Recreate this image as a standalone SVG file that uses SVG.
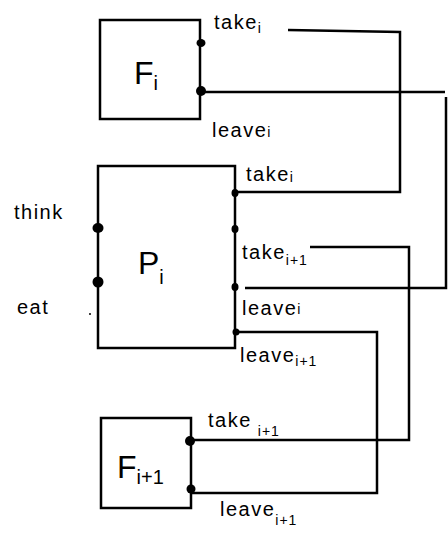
<svg xmlns="http://www.w3.org/2000/svg" width="448" height="539" viewBox="0 0 448 539">
<style>
.box{fill:none;stroke:#000;stroke-width:2.5}
.wire{fill:none;stroke:#000;stroke-width:2.5;stroke-linejoin:miter}
.dot{fill:#000}
.lbl{font-family:"Liberation Sans",Arial,sans-serif;font-size:20px;letter-spacing:1.5px;fill:#000}
.sub{font-size:14px;letter-spacing:1px}
.big{font-family:"Liberation Sans",Arial,sans-serif;font-size:32px;fill:#000}
.bigsub{font-size:20px}
</style>
<rect width="448" height="539" fill="#fff"/>
<g id="connectors">
<path class="wire" d="M288,30 L400,32 L400,192 L236,192"/>
<path class="wire" d="M200,92 L445,92"/>
<path class="wire" d="M446,97 L446,288 L245,288"/>
<path class="wire" d="M310,247 L409,247 L409,440 L190,440"/>
<path class="wire" d="M236,332 L377,332 L377,493 L191,493"/>
</g>
<g id="Fi">
<rect class="box" x="100" y="20" width="100" height="99"/>
<ellipse class="dot" cx="201" cy="43" rx="4.5" ry="4"/>
<ellipse class="dot" cx="201" cy="91" rx="5" ry="5"/>
<text class="big" x="134" y="84">F<tspan class="bigsub" dy="6">i</tspan></text>
<text class="lbl" x="214" y="29">take<tspan class="sub" dy="4">i</tspan></text>
<text class="lbl" x="212" y="137">leave<tspan class="sub" dy="0">i</tspan></text>
</g>
<g id="Pi">
<rect class="box" x="98" y="166" width="137" height="182"/>
<ellipse class="dot" cx="98" cy="228" rx="5.5" ry="5"/>
<ellipse class="dot" cx="98" cy="282" rx="5.5" ry="5.5"/>
<circle class="dot" cx="90" cy="314" r="1"/>
<ellipse class="dot" cx="235" cy="193" rx="3.5" ry="4"/>
<ellipse class="dot" cx="235" cy="229" rx="3.5" ry="4"/>
<ellipse class="dot" cx="235" cy="287" rx="3.5" ry="4"/>
<ellipse class="dot" cx="236" cy="332" rx="3.5" ry="3.5"/>
<text class="big" x="138" y="274">P<tspan class="bigsub" dy="10">i</tspan></text>
<text class="lbl" x="14" y="219">think</text>
<text class="lbl" x="17" y="314">eat</text>
<text class="lbl" x="246" y="181">take<tspan class="sub" dy="1">i</tspan></text>
<text class="lbl" x="242" y="259">take<tspan class="sub" dy="6">i+1</tspan></text>
<text class="lbl" x="242" y="315">leave<tspan class="sub" dy="-1">i</tspan></text>
<text class="lbl" x="240" y="362">leave<tspan class="sub" dy="4">i+1</tspan></text>
</g>
<g id="Fi1">
<rect class="box" x="101" y="418" width="90" height="90"/>
<ellipse class="dot" cx="190" cy="441" rx="5" ry="5"/>
<ellipse class="dot" cx="191" cy="489" rx="4.5" ry="4.5"/>
<text class="big" x="117" y="478">F<tspan class="bigsub" dy="6">i+1</tspan></text>
<text class="lbl" x="208" y="427">take<tspan class="sub" dx="6" dy="9">i+1</tspan></text>
<text class="lbl" x="220" y="516">leave<tspan class="sub" dy="9">i+1</tspan></text>
</g>
</svg>
